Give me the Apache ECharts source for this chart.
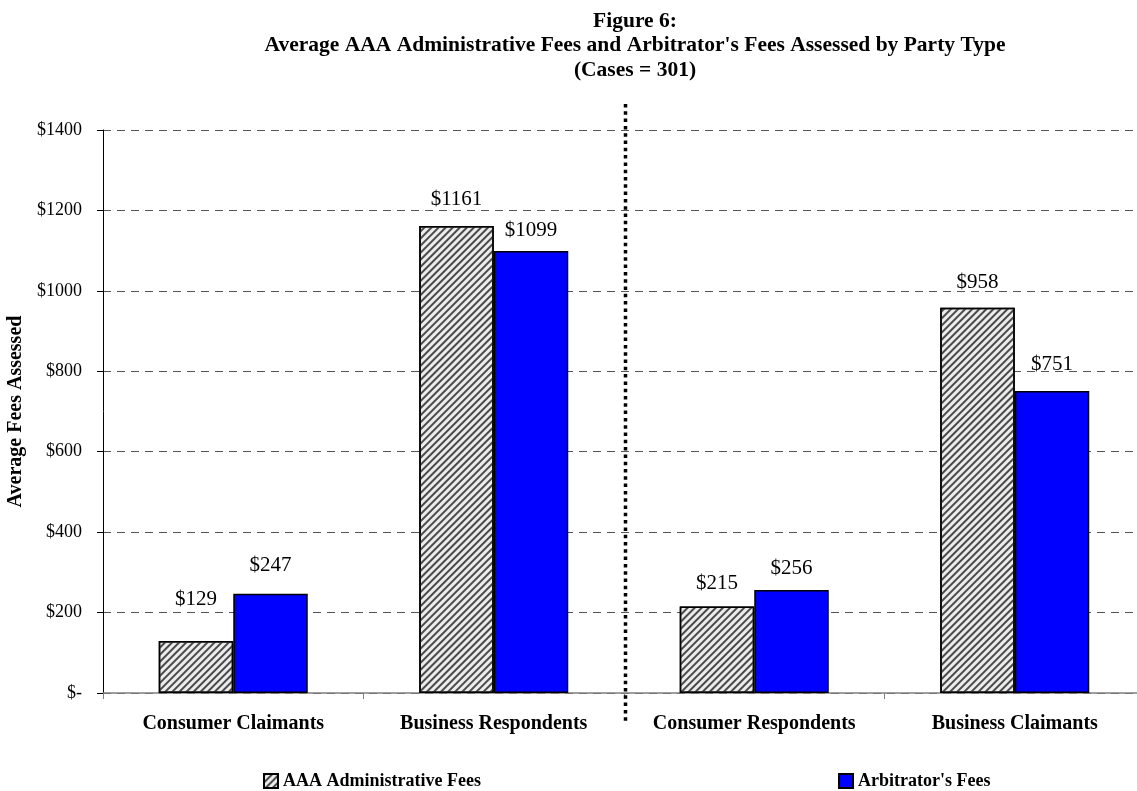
<!DOCTYPE html>
<html><head><meta charset="utf-8">
<script src="https://cdn.jsdelivr.net/npm/echarts@6/dist/echarts.min.js"></script>
<style>html,body{margin:0;padding:0;background:#fff}#c{width:1137px;height:791px}</style>
</head><body><div id="c"></div>
<script>
var categories = ['Consumer Claimants', 'Business Respondents', 'Consumer Respondents', 'Business Claimants'];
var seriesNames = ['AAA Administrative Fees', "Arbitrator's Fees"];
var adminFees = [129, 1161, 215, 958];
var arbitratorFees = [247, 1099, 256, 751];
var yTicks = [0, 200, 400, 600, 800, 1000, 1200, 1400];

// extra upward lift (px) of individual value labels, as placed in the original
var adminLabelLift = [18, 3, 0, 2];
var arbLabelLift = [5, -3, -2, 3];

var FONT = '"Liberation Serif", "Times New Roman", serif';
var chart = echarts.init(document.getElementById('c'));
var hatch = {
  symbol: 'rect', symbolSize: 1, color: '#4a4a4a',
  dashArrayX: [[1, 0]], dashArrayY: [2, 2.2], rotation: -Math.PI / 4
};
var adminStyle = { color: '#ececec', borderColor: '#000', borderWidth: 1.5, decal: hatch };
var arbStyle = { color: '#0000ff', borderColor: '#000', borderWidth: 1.5 };
var lbl = { show: true, position: 'top', distance: 13, color: '#000', fontFamily: FONT, fontSize: 21,
  formatter: function (p) { return '$' + p.value; } };
var yMin = yTicks[0], yMax = yTicks[yTicks.length - 1], yInt = yTicks[1] - yTicks[0];
var legendText = { fontFamily: FONT, fontWeight: 'bold', fontSize: 18, color: '#000' };

function withLift(values, lifts) {
  return values.map(function (v, i) {
    return { value: v, label: { offset: [0, -lifts[i]] } };
  });
}

chart.setOption({
  animation: false,
  title: {
    text: 'Figure 6:\nAverage AAA Administrative Fees and Arbitrator\'s Fees Assessed by Party Type\n(Cases = 301)',
    left: 630, top: 4, textAlign: 'center',
    textStyle: { fontFamily: FONT, fontWeight: 'bold', fontSize: 21.5, lineHeight: 24.5, color: '#000' }
  },
  legend: [
    { data: [seriesNames[0]], left: 258, top: 767, itemWidth: 14, itemHeight: 14, itemGap: 4, icon: 'rect',
      textStyle: legendText },
    { data: [seriesNames[1]], left: 833, top: 767, itemWidth: 14, itemHeight: 14, itemGap: 4, icon: 'rect',
      textStyle: legendText }
  ],
  grid: { left: 103, top: 130, right: -8, bottom: 98, outerBoundsMode: 'none', containLabel: false },
  xAxis: {
    type: 'category', data: categories,
    axisLine: { show: true, lineStyle: { color: '#808080', width: 1.5 } },
    axisTick: { show: true, length: 6, lineStyle: { color: '#808080' } },
    axisLabel: { interval: 0, color: '#000', fontFamily: FONT, fontWeight: 'bold', fontSize: 20, margin: 21 },
    splitLine: { show: false }
  },
  yAxis: {
    type: 'value', min: yMin, max: yMax, interval: yInt,
    name: 'Average Fees Assessed', nameLocation: 'middle', nameGap: 73, nameRotate: 90,
    nameTextStyle: { fontFamily: FONT, fontWeight: 'bold', fontSize: 20, color: '#000' },
    axisLine: { show: true, lineStyle: { color: '#000', width: 1 } },
    axisTick: { show: true, length: 6, lineStyle: { color: '#000' } },
    axisLabel: { color: '#000', fontFamily: FONT, fontSize: 18, margin: 21,
      formatter: function (v) { return v === 0 ? '$-' : '$' + v; } },
    splitLine: { show: true, lineStyle: { color: '#555', type: [8, 6], width: 1 } }
  },
  series: [
    { name: seriesNames[0], type: 'bar', data: withLift(adminFees, adminLabelLift),
      barGap: '0%', barCategoryGap: '42.8%', itemStyle: adminStyle, label: lbl, z: 3 },
    { name: seriesNames[1], type: 'bar', data: withLift(arbitratorFees, arbLabelLift),
      barGap: '0%', barCategoryGap: '42.8%', itemStyle: arbStyle, label: lbl, z: 3 }
  ],
  graphic: [
    { type: 'line', z: 100, shape: { x1: 625.5, y1: 104, x2: 625.5, y2: 721 },
      style: { stroke: '#000', lineWidth: 3.5, lineDash: [3.5, 3.8] } }
  ]
});
</script></body></html>
